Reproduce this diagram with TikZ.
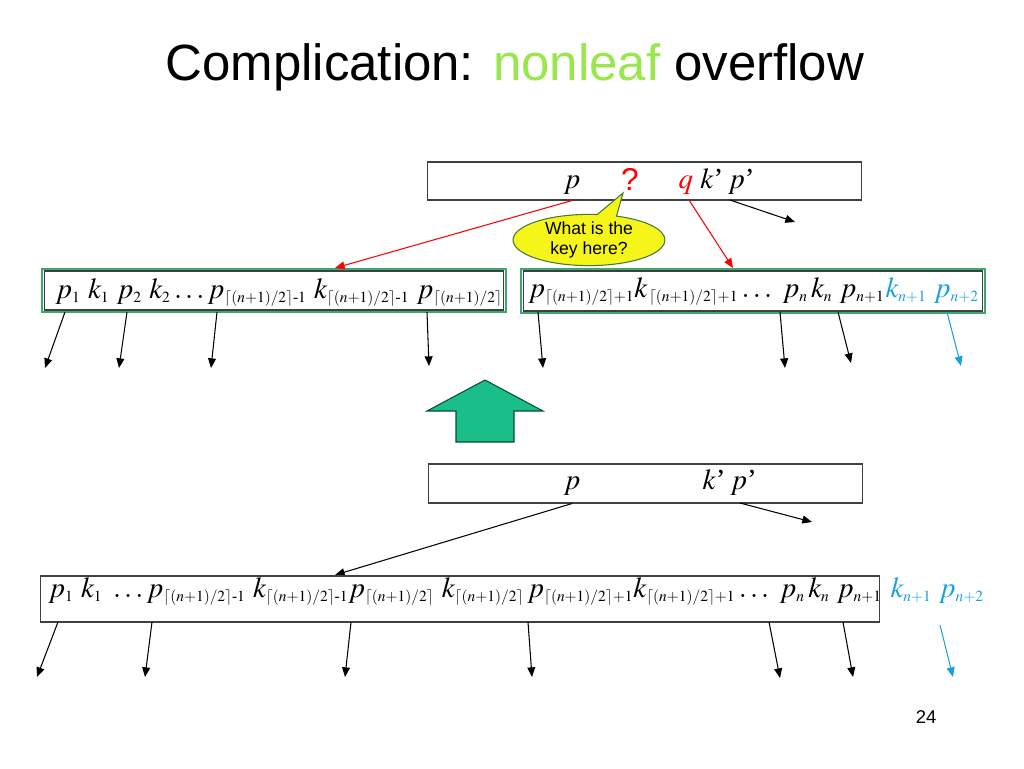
\documentclass[tikz,border=0pt]{standalone}
\usepackage{amsmath}
\usepackage{mathptmx}
\usepackage[no-math]{fontspec}
\setmainfont{Liberation Serif}
\setsansfont{Liberation Sans}
\usepackage{tikz}
\usetikzlibrary{arrows.meta, fit, shapes.callouts}
\usepackage{xcolor}
\definecolor{titlegreen}{RGB}{153, 230, 77}
\definecolor{splitgreen}{RGB}{60, 168, 112}
\definecolor{upgreen}{RGB}{26, 190, 136}
\definecolor{keyblue}{RGB}{25, 160, 222}
\definecolor{askyellow}{RGB}{245, 245, 25}
\definecolor{askedge}{RGB}{70, 120, 60}
\DeclareMathSizes{16.5}{16.5}{8.8}{7}
\newcommand{\ceilhalf}{\lceil(n+1)/2\rceil}

\begin{document}
\begin{tikzpicture}[x=0.02cm, y=-0.02cm, line width=0.6pt,
  nodebox/.style={draw=black!75, inner sep=0pt},
  splitbox/.style={draw=splitgreen, line width=0.9pt, inner sep=0.035cm},
  keys/.style={font=\fontsize{16.5}{20}\selectfont, inner sep=0pt, anchor=base west},
  ptr/.style={-{Triangle[length=5.5pt, width=4.5pt]}}]
  \useasboundingbox (0,0) rectangle (1024,768);

  % title
  \node[anchor=base west, inner sep=0pt, font=\sffamily\fontsize{29}{34}\selectfont] (title) at (165,80)
    {Complication: \textcolor{titlegreen}{nonleaf} overflow};

  % parent with the key to insert
  \node[nodebox, minimum width=8.7cm, minimum height=0.76cm] (top) at (644.5,181) {};
  \node[keys, anchor=base] (tp) at (572,188) {$p$};
  \node[anchor=base, inner sep=0pt, text=red, font=\sffamily\fontsize{18}{20}\selectfont] (qmark) at (630,190) {?};
  \node[keys] (tq) at (678,188) {\textcolor{red}{$q$} $k$’\,$p$’};
  \node[ellipse callout, draw=askedge, fill=askyellow, minimum width=3.04cm, minimum height=0.92cm,
    inner sep=0pt, align=center, callout absolute pointer={(623,193)},
    font=\sffamily\fontsize{10}{11.3}\selectfont] (ask) at (589,240) {What is the\\key here?};

  % split node
  \node[nodebox, minimum width=9.2cm, minimum height=0.78cm] (lbox) at (274,290.5) {};
  \node[splitbox, fit=(lbox)] (lfit) {};
  \node[nodebox, minimum width=9.2cm, minimum height=0.8cm] (rbox) at (753,291) {};
  \node[splitbox, fit=(rbox)] (rfit) {};
  \node[keys] (lkeys) at (55,298)
    {$p_1\ k_1\ p_2\ k_2\ldots p_{\ceilhalf\text{-}1}\ k_{\ceilhalf\text{-}1}\ p_{\ceilhalf}$};
  \node[keys] (rkeys) at (528,297)
    {$p_{\ceilhalf+1}k_{\,\ceilhalf+1}\ldots\ p_n\,k_n\ p_{n+1}$};
  \node[keys, text=keyblue] (rnew) at (885,297) {$k_{n+1}\ p_{n+2}$};

  \coordinate (lin) at (335,268);
  \coordinate (rin) at (733,268);
  \coordinate (qout) at (689,200);
  \coordinate (kout) at (730,200);
  \coordinate (kend) at (795,222);
  \draw[ptr, red] (tp |- top.south) -- (lin);
  \draw[ptr, red] (qout) -- (rin);
  \draw[ptr] (kout) -- (kend);

  % children of the split node
  \foreach \i/\sx/\ex/\ey in {1/65/45/368, 2/127/119/368, 3/217/211/368, 4/427/429/366,
                              5/538/543/368, 6/780/785/368, 7/838/851/363} {
    \coordinate (us\i) at (\sx,312);
    \coordinate (ue\i) at (\ex,\ey);
    \draw[ptr] (us\i) -- (ue\i);
  }
  \coordinate (us8) at (947,312);
  \coordinate (ue8) at (961,366);
  \draw[ptr, keyblue] (us8) -- (ue8);

  % before the split
  \draw[fill=upgreen, draw=black!60!upgreen] (485,380) -- (543,411) -- (514,411) -- (514,442)
    -- (456,442) -- (456,411) -- (427,411) -- cycle;

  \node[nodebox, minimum width=8.7cm, minimum height=0.78cm] (newtop) at (645.5,483.5) {};
  \node[keys, anchor=base] (np) at (572,489) {$p$};
  \node[keys] (nk) at (702,489) {$k$’\,$p$’};
  \coordinate (bin) at (335,575);
  \coordinate (nout) at (740,503);
  \coordinate (nend) at (812,522);
  \draw[ptr] (np |- newtop.south) -- (bin);
  \draw[ptr] (nout) -- (nend);

  \node[nodebox, minimum width=16.8cm, minimum height=0.92cm] (bbox) at (460,599) {};
  \node[keys] (bkeys) at (48,597)
    {$p_1\ k_1\ \ldots p_{\ceilhalf\text{-}1}\ k_{\ceilhalf\text{-}1}p_{\ceilhalf}\ k_{\ceilhalf}\,p_{\ceilhalf+1}k_{\ceilhalf+1}\ldots\ p_n\,k_n\ p_{n+1}$};
  \node[keys, text=keyblue] (bnew) at (890,597) {$k_{n+1}\ p_{n+2}$};

  \foreach \i/\sx/\ex/\ey in {1/58/37/677, 2/152/145/677, 3/351/345/677,
                              4/528/532/677, 5/769/780/678, 6/843/853/677} {
    \coordinate (bs\i) at (\sx,622);
    \coordinate (be\i) at (\ex,\ey);
    \draw[ptr] (bs\i) -- (be\i);
  }
  \coordinate (bs7) at (940,625);
  \coordinate (be7) at (953,677);
  \draw[ptr, keyblue] (bs7) -- (be7);

  \node[anchor=base, inner sep=0pt, font=\sffamily\fontsize{10.5}{12}\selectfont] (page) at (926,723) {24};
\end{tikzpicture}
\end{document}
